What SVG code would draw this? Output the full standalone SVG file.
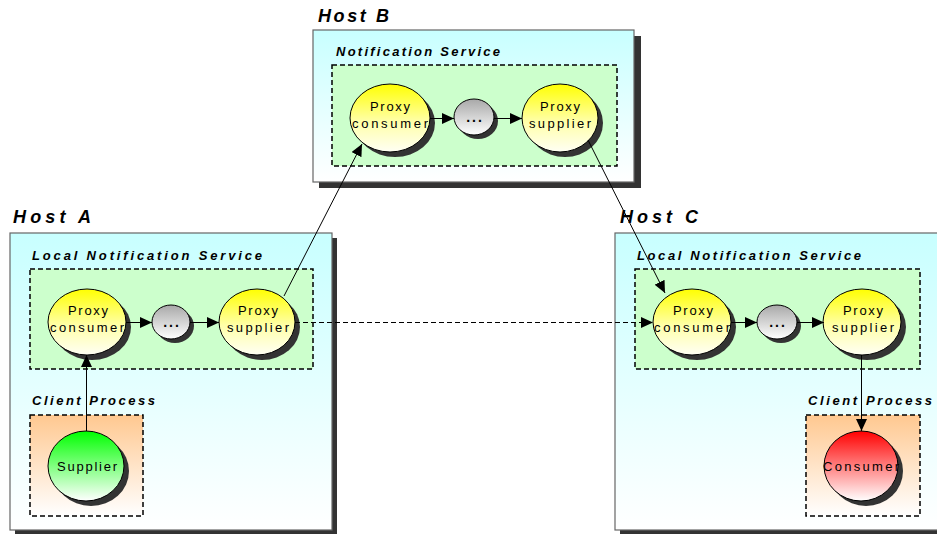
<svg xmlns="http://www.w3.org/2000/svg" width="937" height="534" viewBox="0 0 937 534">
<defs>
<linearGradient id="gHost" x1="0" y1="0" x2="0" y2="1"><stop offset="0" stop-color="#c8ffff"/><stop offset="1" stop-color="#ffffff"/></linearGradient>
<linearGradient id="gClient" x1="0" y1="0" x2="0" y2="1"><stop offset="0" stop-color="#ffc890"/><stop offset="1" stop-color="#ffffff"/></linearGradient>
<linearGradient id="gYellow" x1="0" y1="0" x2="0" y2="1"><stop offset="0" stop-color="#ffff00"/><stop offset="0.55" stop-color="#ffffa8"/><stop offset="1" stop-color="#fffff4"/></linearGradient>
<linearGradient id="gGray" x1="0" y1="0" x2="0" y2="1"><stop offset="0" stop-color="#a8a8a8"/><stop offset="1" stop-color="#ffffff"/></linearGradient>
<linearGradient id="gGreen" x1="0" y1="0" x2="0" y2="1"><stop offset="0" stop-color="#00ff00"/><stop offset="1" stop-color="#ffffff"/></linearGradient>
<linearGradient id="gRed" x1="0" y1="0" x2="0" y2="1"><stop offset="0" stop-color="#ff0000"/><stop offset="1" stop-color="#ffffff"/></linearGradient>
<marker id="arr" markerUnits="userSpaceOnUse" markerWidth="13" markerHeight="11" refX="12" refY="5.5" orient="auto"><path d="M0,0 L12,5.5 L0,11 Z" fill="#000"/></marker>
</defs>
<style>
.host{fill:url(#gHost);stroke:#666;stroke-width:1.2}
.hshadow{fill:#333}
.svc{fill:#ccffcc;stroke:#000;stroke-width:1.5;stroke-dasharray:5,3}
.cli{fill:url(#gClient);stroke:#000;stroke-width:1.5;stroke-dasharray:5,3}
.csh{fill:#333}
.prox{fill:url(#gYellow);stroke:#000;stroke-width:1}
.dots{fill:url(#gGray);stroke:#000;stroke-width:1}
.sup{fill:url(#gGreen);stroke:#000;stroke-width:1}
.con{fill:url(#gRed);stroke:#000;stroke-width:1}
.ht{font-family:"Liberation Sans",Arial,sans-serif;font-weight:bold;font-style:italic;font-size:18px;fill:#000}
.st{font-family:"Liberation Sans",Arial,sans-serif;font-weight:bold;font-style:italic;font-size:13px;fill:#000}
.nt{font-family:"Liberation Sans",Arial,sans-serif;font-size:13px;fill:#000;text-anchor:middle}
.dt{font-family:"Liberation Sans",Arial,sans-serif;font-size:14px;font-weight:bold;fill:#000;text-anchor:middle;letter-spacing:2px}
.ln{stroke:#000;stroke-width:1;fill:none}
</style>

<g id="hostB">
<rect class="hshadow" x="319" y="36" width="322" height="152"/>
<rect class="host" x="313" y="30" width="321" height="152"/>
<text class="ht" x="318" y="22" textLength="71" lengthAdjust="spacing">Host B</text>
<text class="st" x="336" y="56" textLength="164" lengthAdjust="spacing">Notification Service</text>
<rect class="svc" x="332" y="65" width="285" height="101"/>
</g>

<g id="hostA">
<rect class="hshadow" x="15" y="238" width="322" height="296"/>
<rect class="host" x="10" y="233" width="322" height="297"/>
<text class="ht" x="13" y="223" textLength="78" lengthAdjust="spacing">Host A</text>
<text class="st" x="32" y="260" textLength="230" lengthAdjust="spacing">Local Notification Service</text>
<rect class="svc" x="30" y="269" width="283" height="100"/>
<text class="st" x="32" y="405" textLength="123" lengthAdjust="spacing">Client Process</text>
<rect class="cli" x="30" y="415" width="113" height="101"/>
</g>

<g id="hostC">
<rect class="hshadow" x="620" y="238" width="330" height="296"/>
<rect class="host" x="615" y="233" width="330" height="297"/>
<text class="ht" x="620" y="223" textLength="78" lengthAdjust="spacing">Host C</text>
<text class="st" x="637" y="260" textLength="224" lengthAdjust="spacing">Local Notification Service</text>
<rect class="svc" x="635" y="269" width="285" height="100"/>
<text class="st" x="808" y="405" textLength="124" lengthAdjust="spacing">Client Process</text>
<rect class="cli" x="806" y="415" width="114" height="101"/>
</g>

<g id="b-proxy-consumer">
<ellipse class="csh" cx="395" cy="123" rx="40" ry="34"/>
<ellipse class="prox" cx="390" cy="118" rx="40" ry="34"/>
<text class="nt" x="390" y="111" textLength="40" lengthAdjust="spacing">Proxy</text>
<text class="nt" x="390" y="128" textLength="76" lengthAdjust="spacing">consumer</text>
</g>
<g id="b-dots">
<ellipse class="csh" cx="478" cy="121" rx="20" ry="18"/>
<ellipse class="dots" cx="474" cy="117" rx="20" ry="18"/>
<text class="dt" x="475" y="122">...</text>
</g>
<g id="b-proxy-supplier">
<ellipse class="csh" cx="565" cy="123" rx="38" ry="34"/>
<ellipse class="prox" cx="560" cy="118" rx="38" ry="34"/>
<text class="nt" x="560" y="111" textLength="40" lengthAdjust="spacing">Proxy</text>
<text class="nt" x="560" y="128" textLength="62" lengthAdjust="spacing">supplier</text>
</g>

<g id="a-proxy-consumer">
<ellipse class="csh" cx="92" cy="327" rx="39" ry="33"/>
<ellipse class="prox" cx="87" cy="322" rx="39" ry="33"/>
<text class="nt" x="88" y="315" textLength="40" lengthAdjust="spacing">Proxy</text>
<text class="nt" x="87" y="332" textLength="74" lengthAdjust="spacing">consumer</text>
</g>
<g id="a-dots">
<ellipse class="csh" cx="175" cy="326" rx="19" ry="17"/>
<ellipse class="dots" cx="171" cy="322" rx="19" ry="17"/>
<text class="dt" x="172" y="327">...</text>
</g>
<g id="a-proxy-supplier">
<ellipse class="csh" cx="262" cy="327" rx="38" ry="33"/>
<ellipse class="prox" cx="257" cy="322" rx="38" ry="33"/>
<text class="nt" x="258" y="315" textLength="40" lengthAdjust="spacing">Proxy</text>
<text class="nt" x="258" y="332" textLength="62" lengthAdjust="spacing">supplier</text>
</g>
<g id="a-supplier">
<ellipse class="csh" cx="91" cy="471" rx="38" ry="35"/>
<ellipse class="sup" cx="86" cy="466" rx="38" ry="35"/>
<text class="nt" x="87" y="471" textLength="60" lengthAdjust="spacing">Supplier</text>
</g>

<g id="c-proxy-consumer">
<ellipse class="csh" cx="697" cy="327" rx="39" ry="33"/>
<ellipse class="prox" cx="692" cy="322" rx="39" ry="33"/>
<text class="nt" x="693" y="315" textLength="40" lengthAdjust="spacing">Proxy</text>
<text class="nt" x="692" y="332" textLength="76" lengthAdjust="spacing">consumer</text>
</g>
<g id="c-dots">
<ellipse class="csh" cx="781" cy="326" rx="20" ry="17"/>
<ellipse class="dots" cx="777" cy="322" rx="20" ry="17"/>
<text class="dt" x="778" y="327">...</text>
</g>
<g id="c-proxy-supplier">
<ellipse class="csh" cx="867" cy="327" rx="39" ry="33"/>
<ellipse class="prox" cx="862" cy="322" rx="39" ry="33"/>
<text class="nt" x="863" y="315" textLength="40" lengthAdjust="spacing">Proxy</text>
<text class="nt" x="863" y="332" textLength="62" lengthAdjust="spacing">supplier</text>
</g>
<g id="c-consumer">
<ellipse class="csh" cx="866" cy="471" rx="37" ry="35"/>
<ellipse class="con" cx="861" cy="466" rx="37" ry="35"/>
<text class="nt" x="861" y="471" textLength="76" lengthAdjust="spacing">Consumer</text>
</g>

<g id="connectors">
<line class="ln" x1="430" y1="118.5" x2="454" y2="118.5" marker-end="url(#arr)"/>
<line class="ln" x1="494" y1="118.5" x2="522" y2="118.5" marker-end="url(#arr)"/>
<line class="ln" x1="126" y1="322.5" x2="152" y2="322.5" marker-end="url(#arr)"/>
<line class="ln" x1="190" y1="322.5" x2="219" y2="322.5" marker-end="url(#arr)"/>
<line class="ln" x1="731" y1="322.5" x2="757" y2="322.5" marker-end="url(#arr)"/>
<line class="ln" x1="797" y1="322.5" x2="824" y2="322.5" marker-end="url(#arr)"/>
<line class="ln" x1="295" y1="322.5" x2="653" y2="322.5" stroke-dasharray="5,3" marker-end="url(#arr)"/>
<line class="ln" x1="284" y1="296" x2="362" y2="144" marker-end="url(#arr)"/>
<line class="ln" x1="588" y1="140" x2="665" y2="293" marker-end="url(#arr)"/>
<line class="ln" x1="86.5" y1="431" x2="86.5" y2="355" marker-end="url(#arr)"/>
<line class="ln" x1="861.5" y1="355" x2="861.5" y2="431" marker-end="url(#arr)"/>
</g>
</svg>
